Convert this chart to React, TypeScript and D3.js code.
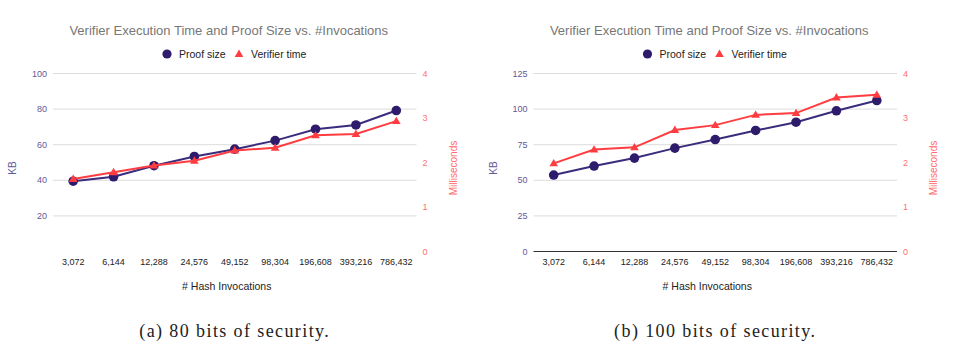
import * as d3 from 'd3';

const invocations = ['3,072', '6,144', '12,288', '24,576', '49,152', '98,304', '196,608', '393,216', '786,432'];

// (a) 80 bits of security
const proofSizeA = [39.5, 42, 48.2, 53.4, 57.5, 62.3, 68.7, 71.1, 79.2];
const verifierTimeA = [1.63, 1.78, 1.93, 2.04, 2.27, 2.33, 2.61, 2.64, 2.93];
const kbTicksA = [20, 40, 60, 80, 100];

// (b) 100 bits of security
const proofSizeB = [53.7, 60, 65.6, 72.6, 78.6, 85, 90.8, 98.8, 106];
const verifierTimeB = [1.98, 2.29, 2.34, 2.73, 2.84, 3.07, 3.11, 3.46, 3.52];
const kbTicksB = [0, 25, 50, 75, 100, 125];

const msTicks = [0, 1, 2, 3, 4];

const title = 'Verifier Execution Time and Proof Size vs. #Invocations';
const captions = ['(a) 80 bits of security.', '(b) 100 bits of security.'];

const NAVY = '#2e1b6b';
const NAVY_LINE = '#3a2c7c';
const RED = '#ff3c40';
const FONT = 'Liberation Sans, Arial, sans-serif';

type PanelProps = {
  x0: number;
  proof: number[];
  time: number[];
  kbTicks: number[];
  kbMax: number;
  baseline: boolean;
  caption: string;
};

function Panel({ x0, proof, time, kbTicks, kbMax, baseline, caption }: PanelProps) {
  const left = x0 + 53;
  const right = x0 + 416.5;
  const top = 73.5;
  const bottom = 251.5;
  const cx = (left + right) / 2 - 8;

  const x = d3.scalePoint<string>().domain(invocations).range([left, right]).padding(0.5);
  const yKb = d3.scaleLinear().domain([0, kbMax]).range([bottom, top]);
  const yMs = d3.scaleLinear().domain([0, 4]).range([bottom, top]);

  const lineKb = d3
    .line<number>()
    .x((_, i) => x(invocations[i]) as number)
    .y((d) => yKb(d));
  const lineMs = d3
    .line<number>()
    .x((_, i) => x(invocations[i]) as number)
    .y((d) => yMs(d));

  const tri = d3.symbol().type(d3.symbolTriangle).size(32)() as string;

  return (
    <g fontFamily={FONT}>
      <text x={cx + 2} y={35} textAnchor="middle" fontSize={13} fill="#777">
        {title}
      </text>

      {/* legend */}
      <circle cx={x0 + 167} cy={54} r={4.6} fill={NAVY} />
      <text x={x0 + 179} y={57.5} fontSize={10.5} fill="#222">
        Proof size
      </text>
      <path d={tri} transform={`translate(${x0 + 239},${54.5})`} fill={RED} />
      <text x={x0 + 251} y={57.5} fontSize={10.5} fill="#222">
        Verifier time
      </text>

      {/* grid */}
      {kbTicks.map((t) => (
        <g key={t}>
          <line
            x1={left}
            x2={right}
            y1={yKb(t)}
            y2={yKb(t)}
            stroke={t === 0 && baseline ? '#333' : '#dcdcdc'}
            strokeWidth={1}
          />
          <text x={left - 6} y={yKb(t)} dy="0.35em" textAnchor="end" fontSize={9} fill="#5f5a98">
            {t}
          </text>
        </g>
      ))}
      {msTicks.map((t) => (
        <text key={t} x={right + 6} y={yMs(t)} dy="0.35em" fontSize={9} fill="#ff7070">
          {t}
        </text>
      ))}

      {/* x labels */}
      {invocations.map((c) => (
        <text key={c} x={x(c)} y={265} textAnchor="middle" fontSize={9} fill="#222">
          {c}
        </text>
      ))}
      <text x={cx} y={290} textAnchor="middle" fontSize={10.5} fill="#222">
        # Hash Invocations
      </text>

      <text
        transform={`translate(${x0 + 16},${168}) rotate(-90)`}
        textAnchor="middle"
        fontSize={10}
        fill="#5f5a98"
      >
        KB
      </text>
      <text
        transform={`translate(${right + 40},${168}) rotate(-90)`}
        textAnchor="middle"
        fontSize={10}
        fill="#ff6b6b"
      >
        Milliseconds
      </text>

      {/* series */}
      <path d={lineKb(proof) as string} fill="none" stroke={NAVY_LINE} strokeWidth={2} />
      {proof.map((d, i) => (
        <circle key={i} cx={x(invocations[i])} cy={yKb(d)} r={4.8} fill={NAVY} />
      ))}
      <path d={lineMs(time) as string} fill="none" stroke={RED} strokeWidth={2} />
      {time.map((d, i) => (
        <path
          key={i}
          d={tri}
          transform={`translate(${x(invocations[i])},${yMs(d) + 0.5})`}
          fill={RED}
        />
      ))}

      <text
        x={cx + 8}
        y={337}
        textAnchor="middle"
        fontSize={18}
        letterSpacing={1.4}
        fill="#222"
        fontFamily="Liberation Serif, serif"
      >
        {caption}
      </text>
    </g>
  );
}

export default function App() {
  return (
    <svg
      width={953}
      height={361}
      style={{ position: 'absolute', left: 0, top: 0, background: '#fff' }}
    >
      <Panel
        x0={0}
        proof={proofSizeA}
        time={verifierTimeA}
        kbTicks={kbTicksA}
        kbMax={100}
        baseline={false}
        caption={captions[0]}
      />
      <Panel
        x0={480.5}
        proof={proofSizeB}
        time={verifierTimeB}
        kbTicks={kbTicksB}
        kbMax={125}
        baseline={true}
        caption={captions[1]}
      />
    </svg>
  );
}
